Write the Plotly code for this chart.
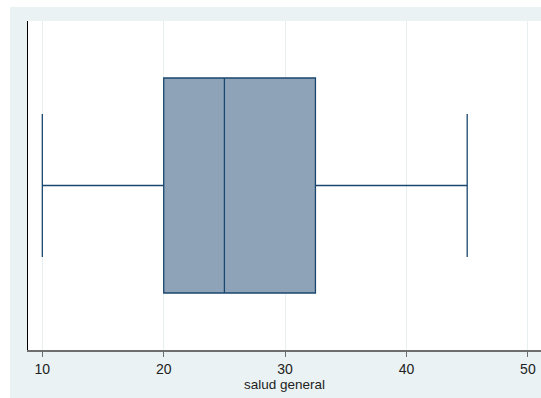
import plotly.graph_objects as go

# Data
variable = ["salud general"]
lower_whisker = [10]
q1_vals = [20]
median_vals = [25]
q3_vals = [32.5]
upper_whisker = [45]
x_ticks = [10, 20, 30, 40, 50]

W, H = 541, 398
L, R, T, B = 28, 0, 21, 48
pw = W - L - R
ph = H - T - B

fig = go.Figure()
fig.add_trace(go.Box(
    y=[0],
    q1=q1_vals, median=median_vals, q3=q3_vals,
    lowerfence=lower_whisker, upperfence=upper_whisker,
    orientation="h",
    name=variable[0],
    width=1,
    whiskerwidth=0.665,
    boxpoints=False,
    fillcolor="rgb(142,163,183)",
    line=dict(color="rgb(26,71,111)", width=1.3),
    hoverinfo="skip",
    showlegend=False,
))

fig.update_layout(
    width=W, height=H,
    margin=dict(l=L, r=R, t=T, b=B, pad=0),
    paper_bgcolor="rgb(234,242,243)",
    plot_bgcolor="white",
    font=dict(family="Liberation Sans, Arial, sans-serif", color="#222222"),
    shapes=[
        # white strips outside the light graph region (top and left)
        dict(type="rect", xref="paper", yref="paper", layer="below",
             x0=-L / pw, x1=1.0, y0=1 + (T - 7) / ph, y1=1 + T / ph,
             fillcolor="white", line=dict(width=0)),
        dict(type="rect", xref="paper", yref="paper", layer="below",
             x0=-L / pw, x1=-(L - 10) / pw, y0=-B / ph, y1=1 + T / ph,
             fillcolor="white", line=dict(width=0)),
    ],
    xaxis=dict(
        range=[8.82, 51.08],
        tickvals=x_ticks,
        ticktext=[str(v) for v in x_ticks],
        showgrid=True, gridcolor="rgb(232,239,240)", gridwidth=1,
        zeroline=False,
        showline=True, linecolor="rgb(110,110,110)", linewidth=1.5,
        ticks="outside", ticklen=5, tickcolor="rgb(110,110,110)", tickwidth=1,
        tickfont=dict(size=14, color="#222222"),
        title=dict(text="salud general", font=dict(size=13.5, color="#222222"), standoff=0),
    ),
    yaxis=dict(
        range=[-0.765, 0.765],
        showticklabels=False, ticks="",
        showgrid=False, zeroline=False,
        showline=True, linecolor="black", linewidth=1,
    ),
)

fig.write_html(
    "out.html",
    config={"displayModeBar": False},
    post_script="document.body.style.margin='0';document.documentElement.style.overflow='hidden';",
)
